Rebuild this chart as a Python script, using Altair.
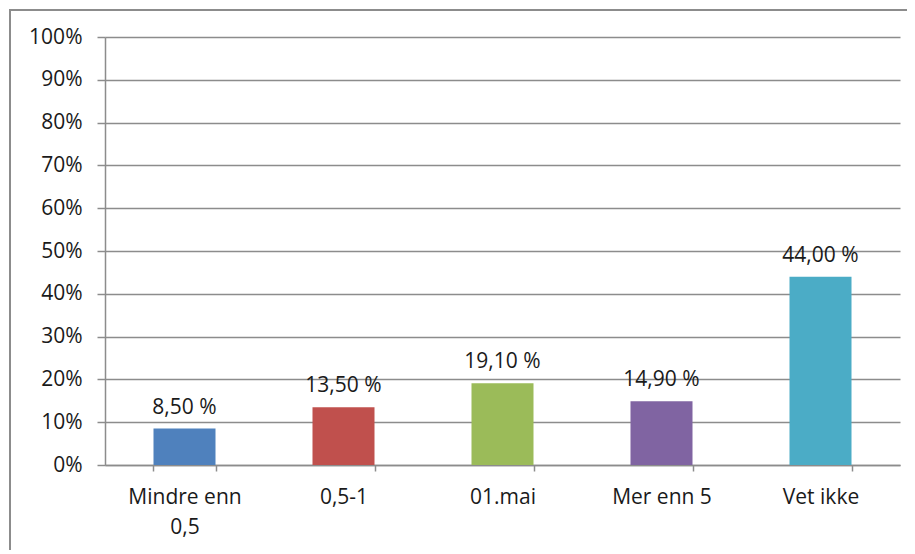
import altair as alt
import pandas as pd

categories = ["Mindre enn 0,5", "0,5-1", "01.mai", "Mer enn 5", "Vet ikke"]
values = [8.5, 13.5, 19.1, 14.9, 44.0]
labels = ["8,50 %", "13,50 %", "19,10 %", "14,90 %", "44,00 %"]
colors = ["#4F81BD", "#C0504D", "#9BBB59", "#8064A2", "#4BACC6"]
y_ticks = [0, 10, 20, 30, 40, 50, 60, 70, 80, 90, 100]

df = pd.DataFrame({"cat": categories, "val": values, "lab": labels})

FONT = "Open Sans"
GRID = "#8c8c8c"
TXT = "#1a1a1a"

x_enc = alt.X(
    "cat:N",
    sort=categories,
    scale=alt.Scale(paddingInner=0.61, paddingOuter=0.305),
    axis=alt.Axis(
        title=None,
        labelAngle=0,
        labelFont=FONT,
        labelFontSize=21,
        labelColor=TXT,
        labelPadding=15,
        labelLineHeight=30,
        labelBaseline="top",
        labelExpr="datum.label == 'Mindre enn 0,5' ? ['Mindre enn', '0,5'] : datum.label",
        domainColor=GRID,
        domainWidth=1.5,
        tickColor=GRID,
        tickWidth=1.5,
        tickSize=6,
        tickBand="extent",
        grid=False,
    ),
)

y_enc = alt.Y(
    "val:Q",
    scale=alt.Scale(domain=[0, 100], nice=False),
    axis=alt.Axis(
        title=None,
        values=y_ticks,
        labelExpr="datum.value + '%'",
        labelFont=FONT,
        labelFontSize=21,
        labelColor=TXT,
        labelPadding=15,
        domainColor=GRID,
        domainWidth=1.5,
        tickColor=GRID,
        tickWidth=1.5,
        tickSize=8,
        gridColor=GRID,
        gridWidth=1.5,
    ),
)

frame = alt.Chart(alt.Data(values=[{}])).mark_rect(
    fill=None, stroke="#8c8c8c", strokeWidth=2, clip=False
).encode(
    x=alt.value(-95), x2=alt.value(840),
    y=alt.value(-27), y2=alt.value(560),
)

bars = alt.Chart(df).mark_bar().encode(
    x=x_enc,
    y=y_enc,
    color=alt.Color("cat:N", sort=categories,
                    scale=alt.Scale(domain=categories, range=colors), legend=None),
)

text = alt.Chart(df).mark_text(
    dy=-15, baseline="alphabetic", font=FONT, fontSize=21, color=TXT
).encode(
    x=alt.X("cat:N", sort=categories),
    y="val:Q",
    text="lab:N",
)

chart = alt.layer(frame, bars, text).properties(
    width=795,
    height=428,
    autosize=alt.AutoSizeParams(type="none"),
    padding={"left": 97, "top": 29, "right": 7, "bottom": 85},
    background="white",
).configure_view(stroke=None)

chart.save("out.html", embed_options={"renderer": "svg", "actions": False})
